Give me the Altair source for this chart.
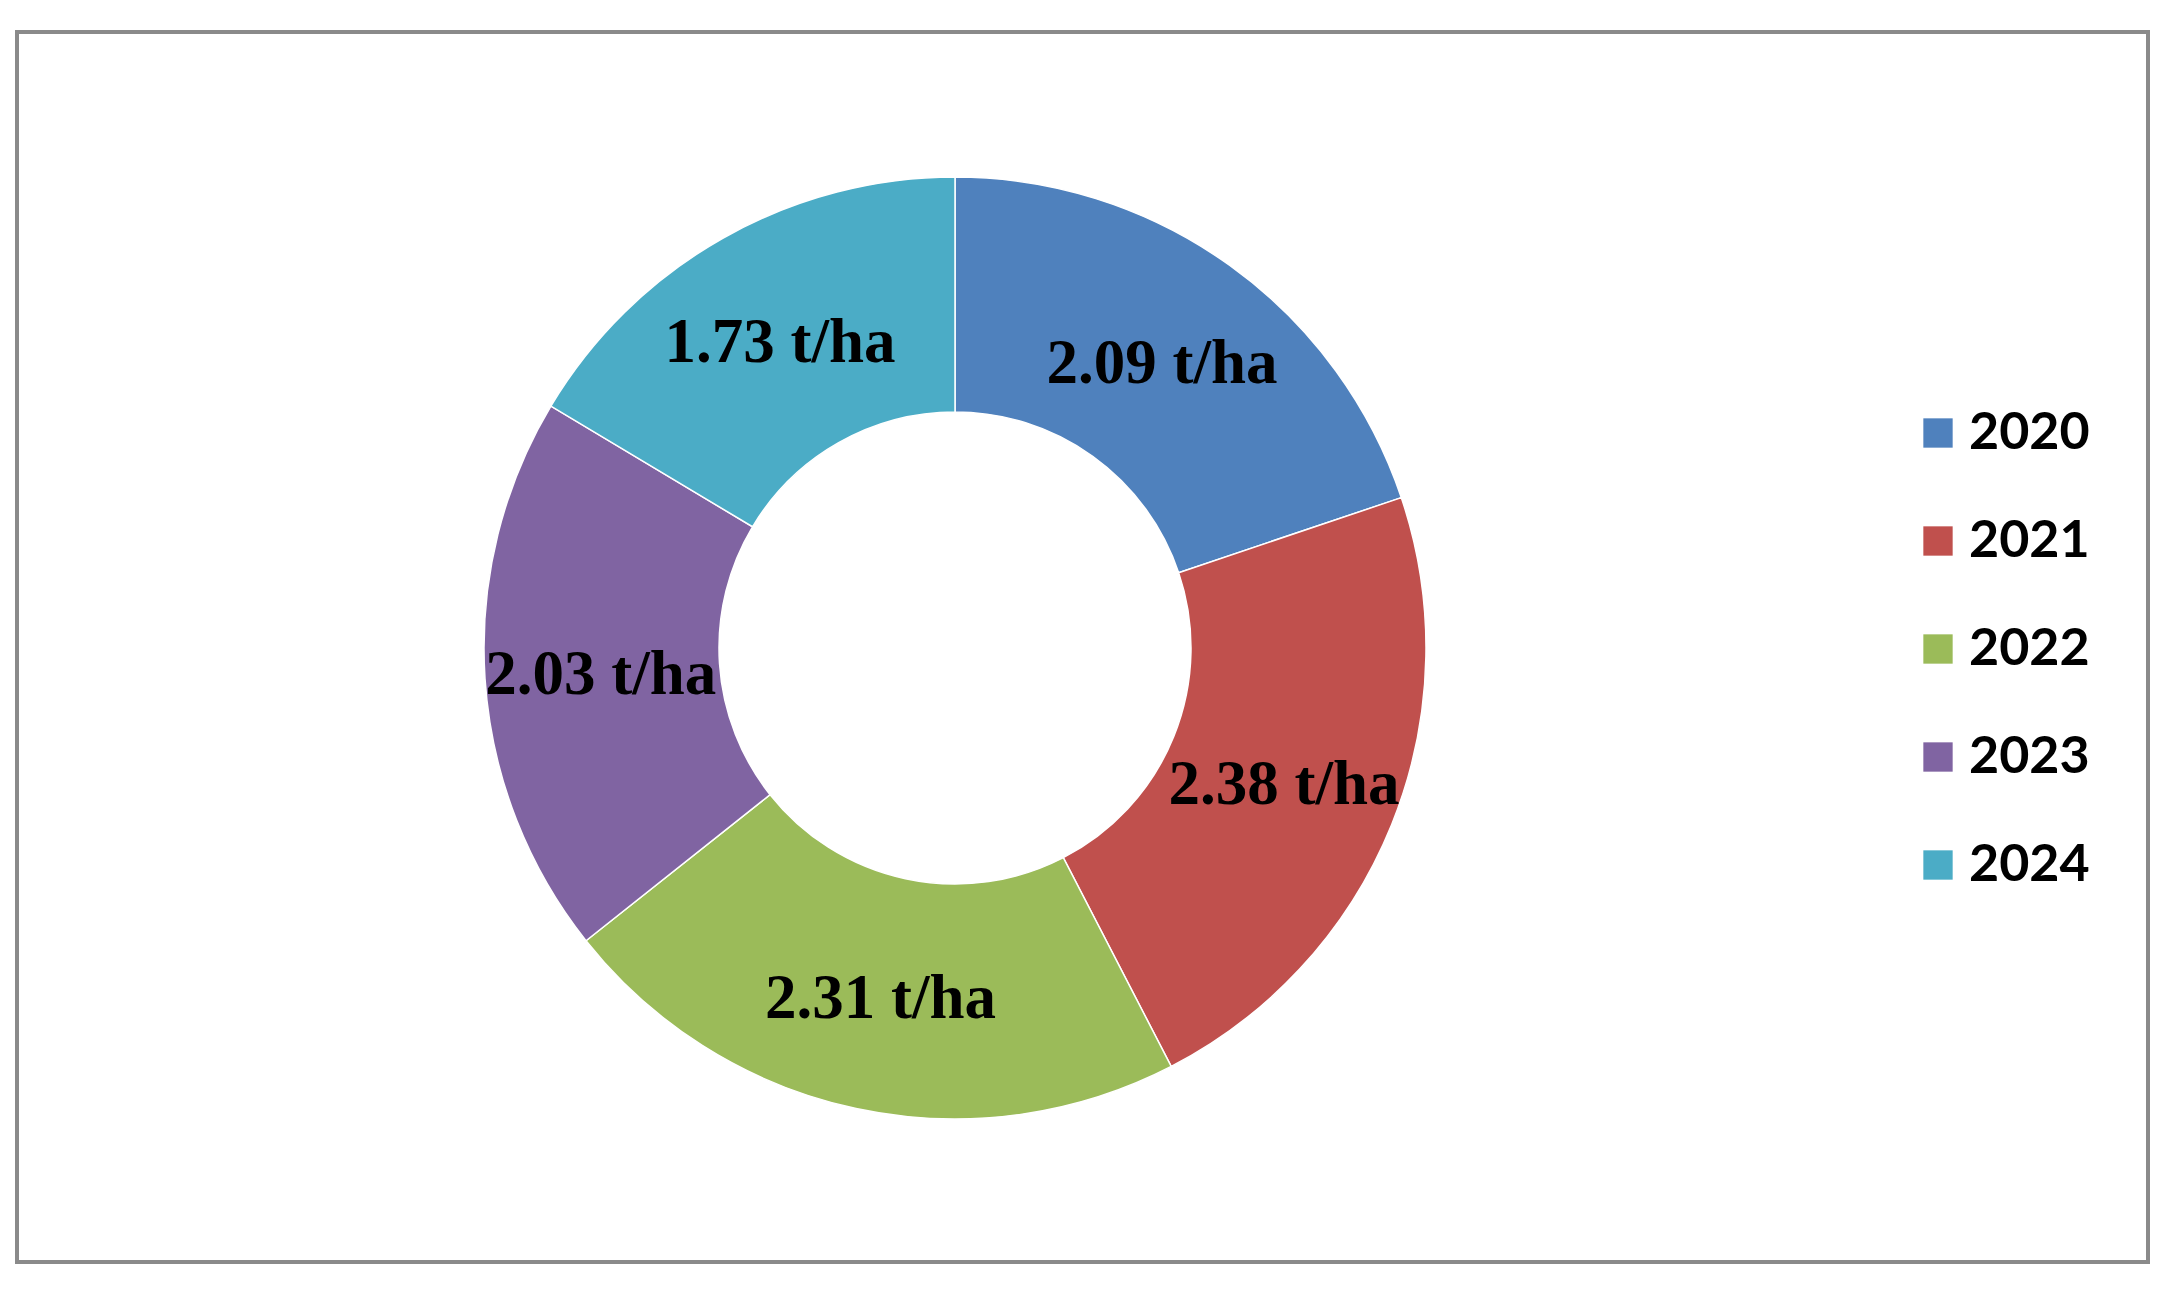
import altair as alt
import pandas as pd

years = ["2020", "2021", "2022", "2023", "2024"]
yields = [2.09, 2.38, 2.31, 2.03, 1.73]
labels = ["2.09 t/ha", "2.38 t/ha", "2.31 t/ha", "2.03 t/ha", "1.73 t/ha"]
colors = ["#4F81BD", "#C0504D", "#9BBB59", "#8064A2", "#4BACC6"]

df = pd.DataFrame({"year": years, "value": yields, "label": labels,
                   "ord": list(range(len(years)))})

cx, cy = 938, 616

base = alt.Chart(df).encode(
    theta=alt.Theta("value:Q", stack=True),
    order=alt.Order("ord:Q"),
)

arcs = base.mark_arc(outerRadius=471, innerRadius=236, stroke="white",
                     strokeWidth=1.5).encode(
    x=alt.value(cx), y=alt.value(cy),
    color=alt.Color("year:N", scale=alt.Scale(domain=years, range=colors),
                    legend=alt.Legend(title=None, orient="none", legendX=1895,
                                      legendY=375, symbolType="square",
                                      symbolSize=860, symbolStrokeWidth=0,
                                      labelFont="Lato", labelFontSize=52,
                                      labelFontWeight="bold", labelColor="black",
                                      symbolOffset=0, labelOffset=5,
                                      rowPadding=56, padding=0)),
)

text = base.mark_text(radius=355, font="Liberation Serif", fontSize=63,
                      fontWeight="bold", color="black", dy=4).encode(
    x=alt.value(cx), y=alt.value(cy),
    text="label:N",
)

chart = (arcs + text).properties(
    width=2131, height=1230,
    background="white",
    padding={"left": 9, "top": 24, "right": 6, "bottom": 6},
).configure_view(stroke="#8a8a8a", strokeWidth=4)

chart.save("out.html", embed_options={"renderer": "svg", "actions": False})
